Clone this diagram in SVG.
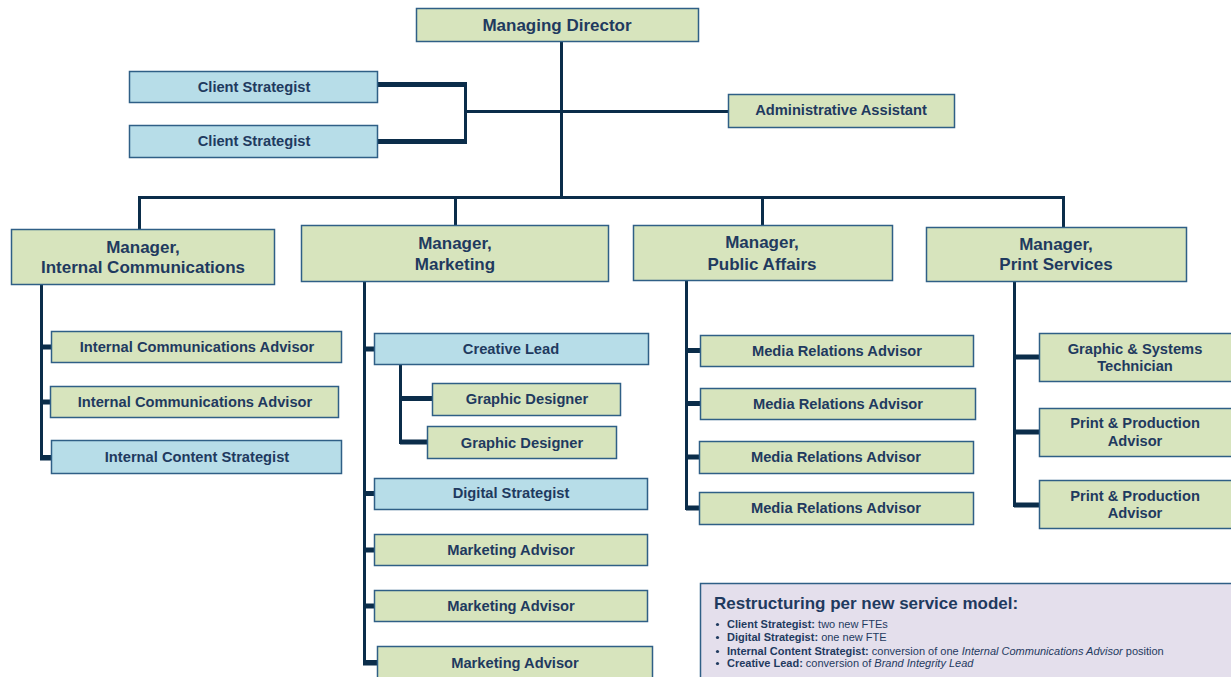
<svg xmlns="http://www.w3.org/2000/svg" width="1231" height="677" viewBox="0 0 1231 677">
<style>
.g{fill:#d7e4bd;stroke:#2f5f86;stroke-width:1.5}
.b{fill:#b7dde8;stroke:#2f5f86;stroke-width:1.5}
.t{font-family:"Liberation Sans",Arial,sans-serif;font-weight:bold;font-size:14.7px;fill:#1f3a5f;text-anchor:middle}
.m{font-size:17px}
.c{fill:none;stroke:#0b2d4a;stroke-width:3;stroke-linejoin:miter}
.k{fill:none;stroke:#0b2d4a;stroke-width:5}
.n{font-family:"Liberation Sans",Arial,sans-serif;font-size:11px;fill:#1f3a5f}
.nb{font-weight:bold}
.ni{font-style:italic}
</style>
<rect width="1231" height="677" fill="#ffffff"/>
<g id="connectors">
<path class="c" d="M561.5 41 V197.5"/>
<path class="k" d="M378 84.5 H465.5 M378 141.5 H465.5"/>
<path class="c" d="M465.5 82 V144"/>
<path class="c" d="M465.5 111.5 H728"/>
<path class="c" d="M139.5 229 V197.5 H1063.5 V227"/>
<path class="c" d="M455.5 197.5 V225 M762.5 197.5 V225"/>
<path class="c" d="M41.5 284 V459 H51"/>
<path class="k" d="M41 347 H51 M41 402 H50 M41 457.5 H51"/>
<path class="c" d="M364.5 281 V664 H377"/>
<path class="k" d="M364 349 H374 M364 493.5 H374 M364 550 H374 M364 606 H374 M364 662.5 H377"/>
<path class="c" d="M400.5 364 V442.5 H427"/>
<path class="k" d="M400 398.5 H432 M400 442 H427"/>
<path class="c" d="M686.5 280 V508.5 H699"/>
<path class="k" d="M686 350.5 H700 M686 403.5 H700 M686 457 H699 M686 508 H699"/>
<path class="c" d="M1014.5 281 V505.5 H1039"/>
<path class="k" d="M1014 357 H1039 M1014 432 H1039 M1014 505 H1039"/>
</g>
<g id="managing-director"><rect class="g" x="416.5" y="8.5" width="282" height="33"/><text class="t m" x="557" y="31">Managing Director</text></g>
<g id="client-strategist-1"><rect class="b" x="129.5" y="71.5" width="248" height="31"/><text class="t" x="254" y="92">Client Strategist</text></g>
<g id="client-strategist-2"><rect class="b" x="129.5" y="125.5" width="248" height="32"/><text class="t" x="254" y="146">Client Strategist</text></g>
<g id="administrative-assistant"><rect class="g" x="728.5" y="94.5" width="226" height="33"/><text class="t" x="841" y="115">Administrative Assistant</text></g>
<g id="manager-internal-communications"><rect class="g" x="11.5" y="229.5" width="263" height="55"/><text class="t m" x="143" y="253">Manager,</text><text class="t m" x="143" y="273">Internal Communications</text></g>
<g id="manager-marketing"><rect class="g" x="301.5" y="225.5" width="307" height="56"/><text class="t m" x="455" y="249">Manager,</text><text class="t m" x="455" y="270">Marketing</text></g>
<g id="manager-public-affairs"><rect class="g" x="633.5" y="225.5" width="259" height="55"/><text class="t m" x="762" y="248">Manager,</text><text class="t m" x="762" y="270">Public Affairs</text></g>
<g id="manager-print-services"><rect class="g" x="926.5" y="227.5" width="260" height="54"/><text class="t m" x="1056" y="250">Manager,</text><text class="t m" x="1056" y="270">Print Services</text></g>
<g id="ic-advisor-1"><rect class="g" x="51.5" y="331.5" width="290" height="31"/><text class="t" x="197" y="352">Internal Communications Advisor</text></g>
<g id="ic-advisor-2"><rect class="g" x="50.5" y="386.5" width="288" height="31"/><text class="t" x="195" y="407">Internal Communications Advisor</text></g>
<g id="internal-content-strategist"><rect class="b" x="51.5" y="440.5" width="290" height="33"/><text class="t" x="197" y="462">Internal Content Strategist</text></g>
<g id="creative-lead"><rect class="b" x="374.5" y="333.5" width="274" height="31"/><text class="t" x="511" y="354">Creative Lead</text></g>
<g id="graphic-designer-1"><rect class="g" x="432.5" y="383.5" width="188" height="32"/><text class="t" x="527" y="404">Graphic Designer</text></g>
<g id="graphic-designer-2"><rect class="g" x="427.5" y="426.5" width="189" height="32"/><text class="t" x="522" y="448">Graphic Designer</text></g>
<g id="digital-strategist"><rect class="b" x="374.5" y="478.5" width="273" height="31"/><text class="t" x="511" y="498">Digital Strategist</text></g>
<g id="marketing-advisor-1"><rect class="g" x="374.5" y="534.5" width="273" height="31"/><text class="t" x="511" y="555">Marketing Advisor</text></g>
<g id="marketing-advisor-2"><rect class="g" x="374.5" y="590.5" width="273" height="31"/><text class="t" x="511" y="611">Marketing Advisor</text></g>
<g id="marketing-advisor-3"><rect class="g" x="377.5" y="646.5" width="275" height="40"/><text class="t" x="515" y="668">Marketing Advisor</text></g>
<g id="media-relations-advisor-1"><rect class="g" x="700.5" y="335.5" width="273" height="31"/><text class="t" x="837" y="356">Media Relations Advisor</text></g>
<g id="media-relations-advisor-2"><rect class="g" x="700.5" y="388.5" width="275" height="31"/><text class="t" x="838" y="409">Media Relations Advisor</text></g>
<g id="media-relations-advisor-3"><rect class="g" x="699.5" y="441.5" width="274" height="32"/><text class="t" x="836" y="462">Media Relations Advisor</text></g>
<g id="media-relations-advisor-4"><rect class="g" x="699.5" y="492.5" width="274" height="32"/><text class="t" x="836" y="513">Media Relations Advisor</text></g>
<g id="graphic-systems-technician"><rect class="g" x="1039.5" y="333.5" width="200" height="48"/><text class="t" x="1135" y="354">Graphic &amp; Systems</text><text class="t" x="1135" y="371">Technician</text></g>
<g id="print-production-advisor-1"><rect class="g" x="1039.5" y="408.5" width="200" height="48"/><text class="t" x="1135" y="428">Print &amp; Production</text><text class="t" x="1135" y="446">Advisor</text></g>
<g id="print-production-advisor-2"><rect class="g" x="1039.5" y="480.5" width="200" height="48"/><text class="t" x="1135" y="501">Print &amp; Production</text><text class="t" x="1135" y="518">Advisor</text></g>
<g id="restructuring-note">
<rect x="700.5" y="583.5" width="540" height="110" fill="#e4dfec" stroke="#2f5f86" stroke-width="1.5"/>
<text x="714" y="609" font-family="Liberation Sans,Arial,sans-serif" font-weight="bold" font-size="17px" fill="#1f3a5f">Restructuring per new service model:</text>
<g class="n">
<circle cx="717.5" cy="624.5" r="1.6" fill="#1f3a5f"/><text x="727" y="628"><tspan class="nb">Client Strategist:</tspan> two new FTEs</text>
<circle cx="717.5" cy="637.5" r="1.6" fill="#1f3a5f"/><text x="727" y="641"><tspan class="nb">Digital Strategist:</tspan> one new FTE</text>
<circle cx="717.5" cy="651.5" r="1.6" fill="#1f3a5f"/><text x="727" y="655"><tspan class="nb">Internal Content Strategist:</tspan> conversion of one <tspan class="ni">Internal Communications Advisor</tspan> position</text>
<circle cx="717.5" cy="663.5" r="1.6" fill="#1f3a5f"/><text x="727" y="667"><tspan class="nb">Creative Lead:</tspan> conversion of <tspan class="ni">Brand Integrity Lead</tspan></text>
</g>
</g>
</svg>
